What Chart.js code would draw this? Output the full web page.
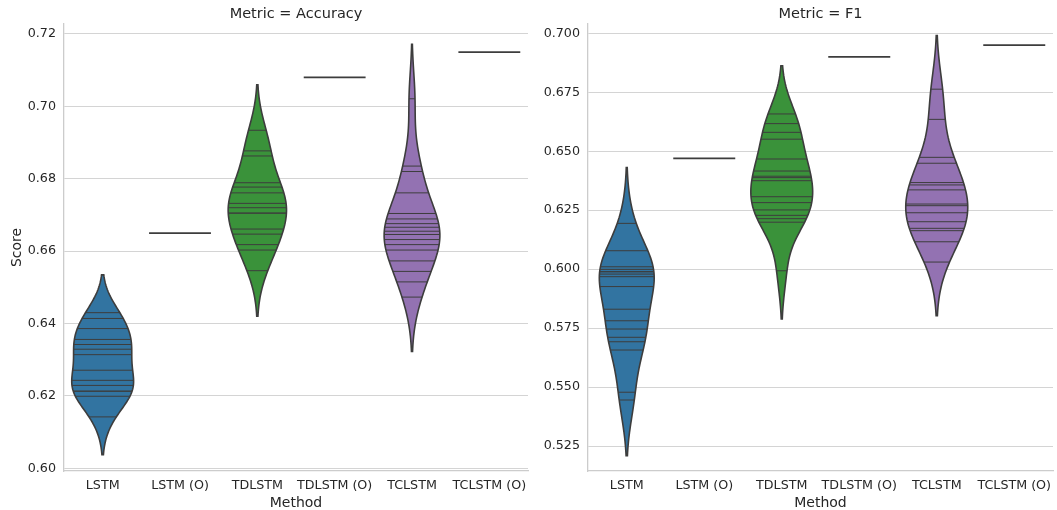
<!DOCTYPE html>
<html>
<head>
<meta charset="utf-8">
<script src="https://cdn.jsdelivr.net/npm/chart.js@4.4.0/dist/chart.umd.min.js"></script>
<style>
  html, body { margin: 0; padding: 0; background: #fff; }
  #wrap { position: relative; width: 1057px; height: 510px; }
  .panel { position: absolute; top: 0; }
  #p1 { left: 0; }
  #p2 { left: 530px; }
</style>
</head>
<body>
<div id="wrap">
  <div class="panel" id="p1"><canvas id="accChart" width="530" height="510"></canvas></div>
  <div class="panel" id="p2"><canvas id="f1Chart" width="527" height="510"></canvas></div>
</div>
<script>
// categories
const methods = ["LSTM", "LSTM (O)", "TDLSTM", "TDLSTM (O)", "TCLSTM", "TCLSTM (O)"];

// Accuracy scores per method (one value per run)
const accLSTM = [0.6430, 0.6414, 0.6386, 0.6356, 0.6342, 0.6329, 0.6314, 0.6271, 0.6243, 0.6229, 0.6213, 0.6213, 0.6199, 0.6142];
const accLSTMO = [0.665];
const accTDLSTM = [0.6934, 0.6877, 0.6863, 0.6789, 0.6777, 0.6761, 0.6732, 0.6720, 0.6705, 0.6705, 0.6661, 0.6647, 0.6618, 0.6603, 0.6546];
const accTDLSTMO = [0.708];
const accTCLSTM = [0.7021, 0.6835, 0.6820, 0.6761, 0.6704, 0.6689, 0.6676, 0.6666, 0.6655, 0.6646, 0.6632, 0.6618, 0.6603, 0.6573, 0.6544, 0.6515, 0.6473];
const accTCLSTMO = [0.715];

// F1 scores per method
const f1LSTM = [0.6194, 0.6078, 0.6010, 0.5999, 0.5989, 0.5989, 0.5979, 0.5968, 0.5926, 0.5830, 0.5781, 0.5746, 0.5711, 0.5692, 0.5657, 0.5478, 0.5445];
const f1LSTMO = [0.647];
const f1TDLSTM = [0.6658, 0.6617, 0.6580, 0.6551, 0.6467, 0.6416, 0.6394, 0.6388, 0.6375, 0.6307, 0.6282, 0.6251, 0.6228, 0.6214, 0.6199, 0.5993];
const f1TDLSTMO = [0.690];
const f1TCLSTM = [0.6763, 0.6635, 0.6474, 0.6449, 0.6367, 0.6357, 0.6336, 0.6276, 0.6269, 0.6239, 0.6201, 0.6173, 0.6163, 0.6116, 0.6030];
const f1TCLSTMO = [0.695];

// tick labels
const accTicks = [0.60, 0.62, 0.64, 0.66, 0.68, 0.70, 0.72];
const f1Ticks = [0.525, 0.550, 0.575, 0.600, 0.625, 0.650, 0.675, 0.700];

const colors = ["#3274a1", "#e1812c", "#3a923a", "#c03d3e", "#9372b2", "#845b53"];
const GRAY = "#3d3d3d";
const TEXT = "#262626";
const GRID = "#d4d4d4";
const FONT = "'DejaVu Sans', sans-serif";

// gaussian kde, scott bandwidth, cut = 2 (like seaborn)
function kde(obs) {
  const n = obs.length;
  const mean = obs.reduce((a, b) => a + b, 0) / n;
  const sd = Math.sqrt(obs.reduce((a, b) => a + (b - mean) ** 2, 0) / (n - 1));
  const bw = sd * Math.pow(n, -0.2);
  const lo = Math.min(...obs) - 2 * bw;
  const hi = Math.max(...obs) + 2 * bw;
  const f = (y) => obs.reduce((s, v) => s + Math.exp(-0.5 * ((y - v) / bw) ** 2), 0) / (n * bw * Math.sqrt(2 * Math.PI));
  const support = [];
  for (let i = 0; i < 100; i++) {
    const y = lo + (hi - lo) * i / 99;
    support.push([y, f(y)]);
  }
  return { support, f, peak: Math.max(...support.map(p => p[1])) };
}

const violinPlugin = {
  id: "violins",
  afterDatasetsDraw(chart) {
    const ctx = chart.ctx;
    const xs = chart.scales.x;
    const ys = chart.scales.y;
    const band = xs.getPixelForValue(1) - xs.getPixelForValue(0);
    const shapes = chart.data.datasets.map(ds => ds.data.length > 1 ? kde(ds.data.map(p => p.y)) : null);
    const maxPeak = Math.max(...shapes.filter(Boolean).map(s => s.peak));
    const hw = d => d / maxPeak * 0.4 * band;
    ctx.save();
    ctx.strokeStyle = GRAY;
    chart.data.datasets.forEach((ds, i) => {
      const cx = xs.getPixelForValue(i);
      const obs = ds.data.map(p => p.y);
      const shape = shapes[i];
      if (!shape) {
        const py = ys.getPixelForValue(obs[0]);
        ctx.lineWidth = 1.7;
        ctx.beginPath();
        ctx.moveTo(cx - 0.4 * band, py);
        ctx.lineTo(cx + 0.4 * band, py);
        ctx.stroke();
        return;
      }
      ctx.beginPath();
      shape.support.forEach(([v, d], k) => {
        const px = cx - hw(d), py = ys.getPixelForValue(v);
        if (k === 0) ctx.moveTo(px, py); else ctx.lineTo(px, py);
      });
      for (let k = shape.support.length - 1; k >= 0; k--) {
        const [v, d] = shape.support[k];
        ctx.lineTo(cx + hw(d), ys.getPixelForValue(v));
      }
      ctx.closePath();
      ctx.fillStyle = ds.backgroundColor;
      ctx.fill();
      ctx.lineWidth = 1.6;
      ctx.stroke();
      // inner sticks
      ctx.lineWidth = 1;
      obs.forEach(v => {
        const w = hw(shape.f(v));
        const py = ys.getPixelForValue(v);
        ctx.beginPath();
        ctx.moveTo(cx - w, py);
        ctx.lineTo(cx + w, py);
        ctx.stroke();
      });
    });
    ctx.restore();
  }
};

function makeDatasets(groups) {
  return groups.map((vals, i) => ({
    label: methods[i],
    data: vals.map(v => ({ x: methods[i], y: v })),
    backgroundColor: colors[i],
    pointRadius: 0,
    pointHoverRadius: 0,
    showLine: false,
  }));
}

function makeChart(id, title, groups, ticks, yMin, yMax, decimals, yWidth, showYTitle, rightPad) {
  const el = document.getElementById(id).getContext("2d");
  // eslint-disable-next-line no-undef
  return new Chart(el, {
    type: "line",
    data: { labels: methods, datasets: makeDatasets(groups) },
    plugins: [violinPlugin],
    options: {
      responsive: false,
      animation: false,
      layout: { padding: { left: 0, right: rightPad, top: 0, bottom: 0 } },
      plugins: {
        legend: { display: false },
        tooltip: { enabled: false },
        title: {
          display: true,
          text: title,
          fullSize: false,
          color: TEXT,
          font: { family: FONT, size: 14.5, weight: "normal" },
          padding: { top: 5.5, bottom: 1.1 },
        },
      },
      scales: {
        x: {
          type: "category",
          offset: true,
          grid: { display: false, drawTicks: false },
          border: { display: true, color: "#cccccc", width: 1.3 },
          ticks: { color: TEXT, font: { family: FONT, size: 12.7 }, padding: 7, maxRotation: 0, autoSkip: false },
          title: { display: true, text: "Method", color: TEXT, font: { family: FONT, size: 14 }, padding: { top: 0, bottom: -2 } },
          afterFit: (s) => { s.height = 39; s.paddingLeft = 0; s.paddingRight = 0; },
        },
        y: {
          min: yMin,
          max: yMax,
          grid: { color: GRID, lineWidth: 1, drawTicks: false },
          border: { display: true, color: "#cccccc", width: 1.3 },
          ticks: { color: TEXT, font: { family: FONT, size: 12.7 }, padding: 8, callback: (v) => v.toFixed(decimals) },
          afterBuildTicks: (s) => { s.ticks = ticks.map(v => ({ value: v })); },
          title: { display: showYTitle, text: "Score", color: TEXT, font: { family: FONT, size: 14 }, padding: { top: 9, bottom: 0 } },
          afterFit: (s) => { s.width = yWidth; s.paddingTop = 0; s.paddingBottom = 0; },
        },
      },
    },
  });
}

makeChart("accChart", "Metric = Accuracy",
  [accLSTM, accLSTMO, accTDLSTM, accTDLSTMO, accTCLSTM, accTCLSTMO],
  accTicks, 0.59925, 0.72276, 2, 64, true, 2);
makeChart("f1Chart", "Metric = F1",
  [f1LSTM, f1LSTMO, f1TDLSTM, f1TDLSTMO, f1TCLSTM, f1TCLSTMO],
  f1Ticks, 0.5144, 0.70394, 3, 58, false, 4);
</script>
</body>
</html>
